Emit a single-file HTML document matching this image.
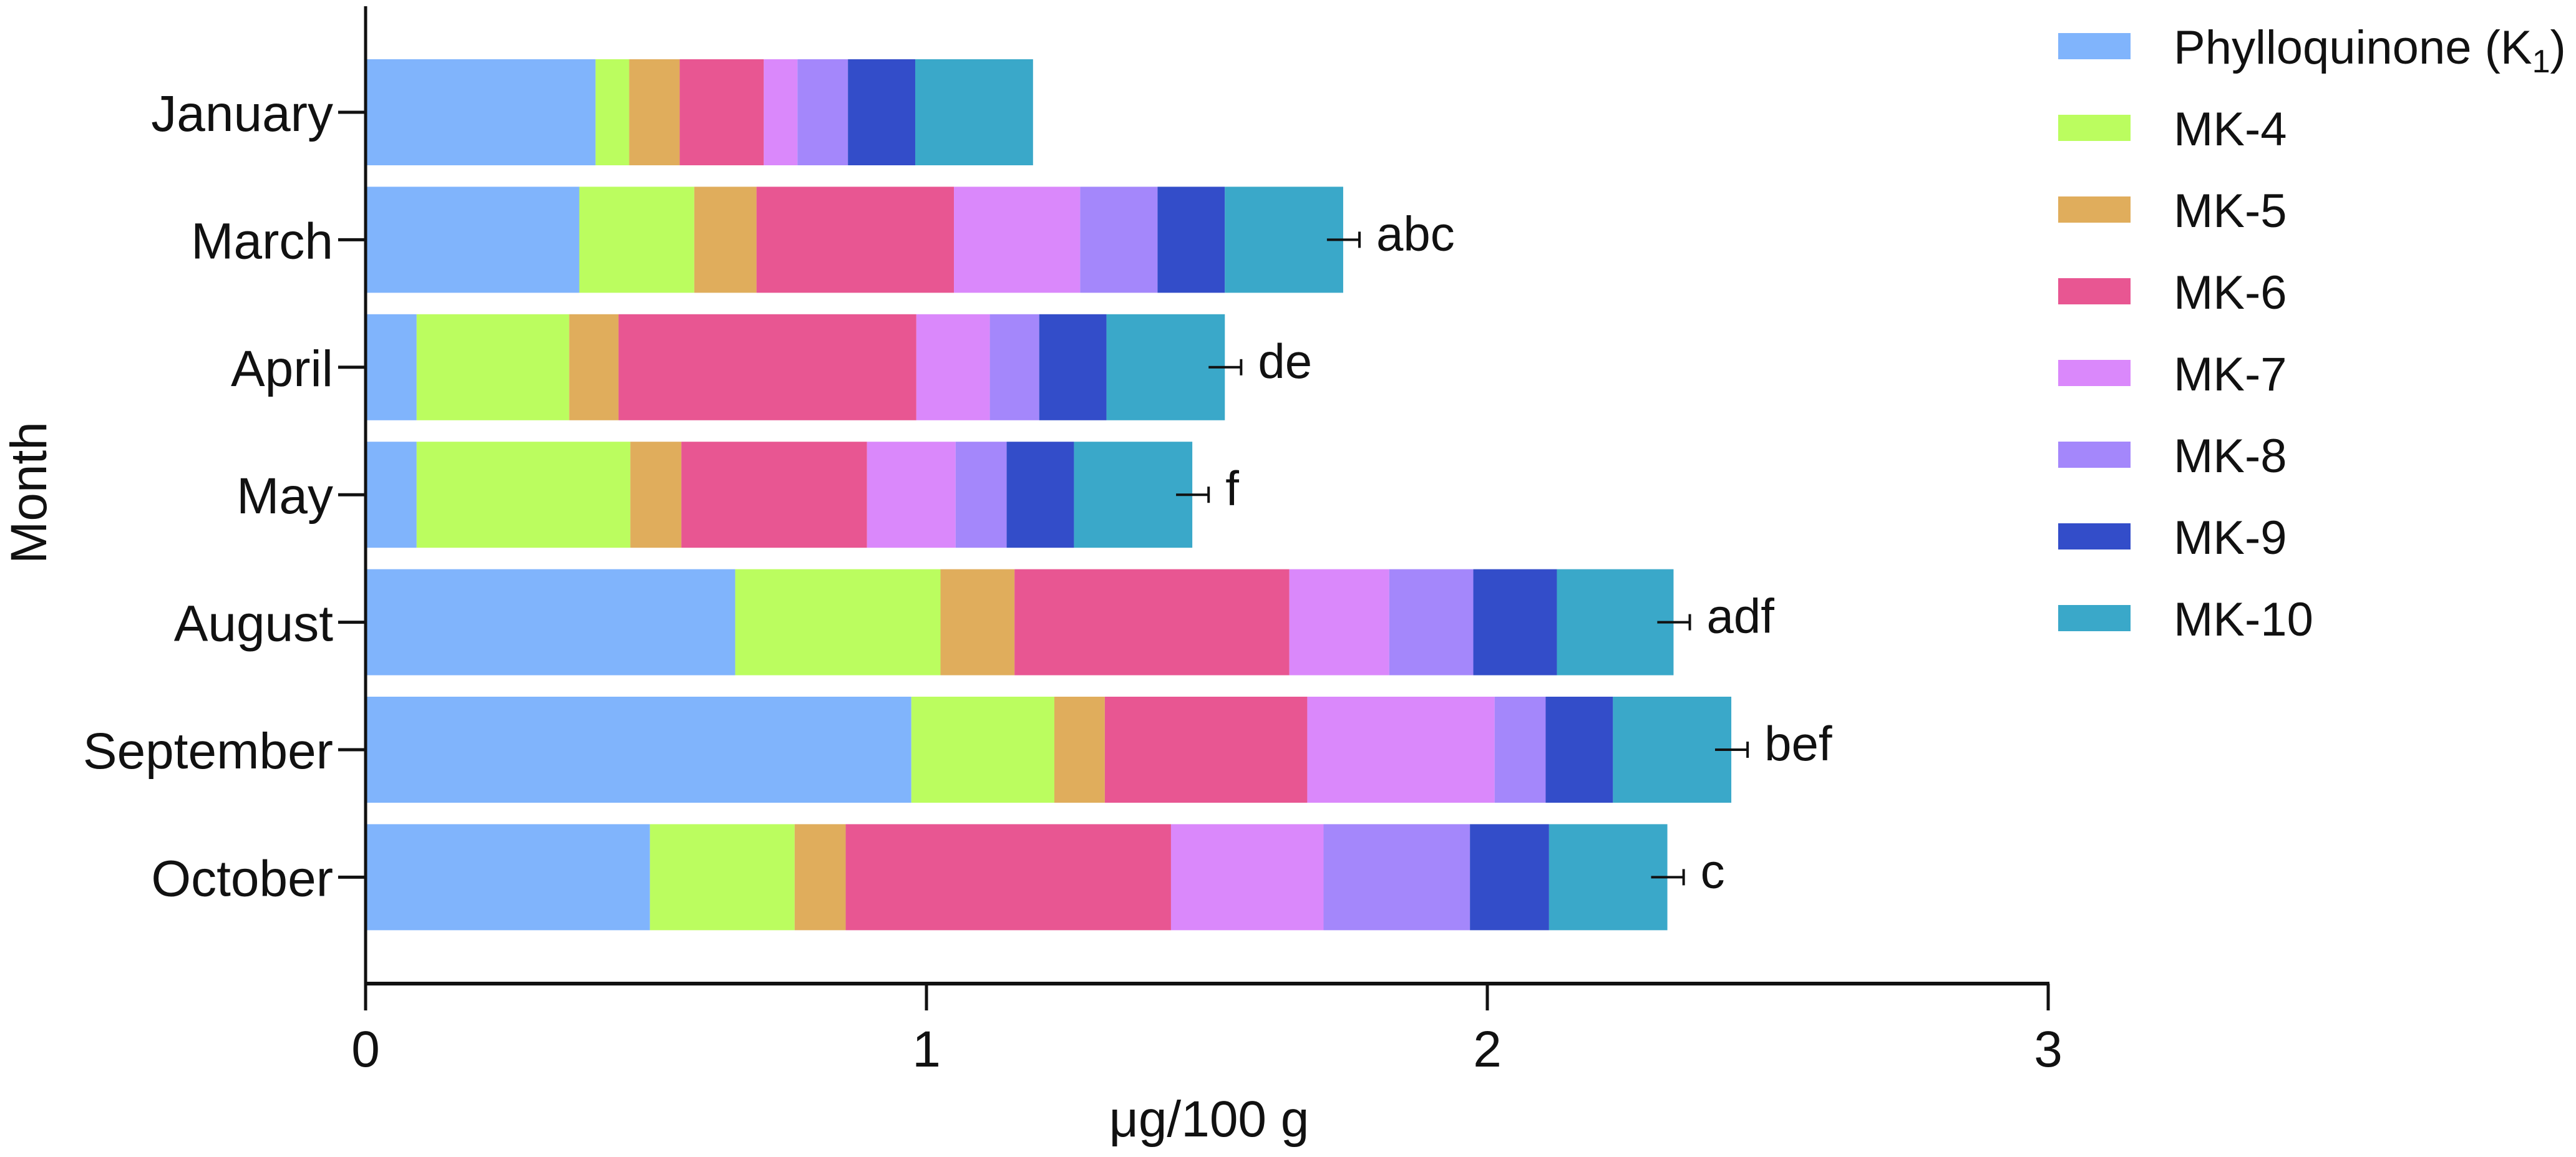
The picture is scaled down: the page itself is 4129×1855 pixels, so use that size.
<!DOCTYPE html>
<html><head><meta charset="utf-8"><style>
html,body{margin:0;padding:0;background:#fff;}
svg{display:block;font-family:"Liberation Sans",Arial,sans-serif;}
</style></head><body>
<svg id="chart" width="4129" height="1855" viewBox="0 0 4129 1855" xmlns="http://www.w3.org/2000/svg">
<g id="bars"></g>
<g id="axes"></g>
<g id="legend"></g>
</svg>
<script>
const months = ["January","March","April","May","August","September","October"];
const seriesNames = ["Phylloquinone (K1)","MK-4","MK-5","MK-6","MK-7","MK-8","MK-9","MK-10"];
const seriesColors = ["#80b4fc","#bbfd5f","#e0ad5c","#e85692","#da88fb","#a487fb","#334dc9","#3aa8c9"];
const k1   = [0.41,0.381,0.091,0.091,0.659,0.973,0.507];
const mk4  = [0.06,0.205,0.272,0.381,0.366,0.255,0.258];
const mk5  = [0.09,0.111,0.088,0.091,0.132,0.090,0.091];
const mk6  = [0.15,0.352,0.531,0.331,0.490,0.361,0.580];
const mk7  = [0.06,0.225,0.131,0.158,0.178,0.334,0.272];
const mk8  = [0.09,0.138,0.088,0.091,0.150,0.091,0.261];
const mk9  = [0.12,0.120,0.120,0.120,0.149,0.120,0.141];
const mk10 = [0.21,0.211,0.211,0.211,0.208,0.211,0.211];
const errors = [0,0.029,0.029,0.029,0.029,0.029,0.029];
const sigLetters = ["","abc","de","f","adf","bef","c"];
const xTicks = [0,1,2,3];

const NS="http://www.w3.org/2000/svg";
const X0=586, XU=899, Y0=180, STEP=204.4, BH=170, AXY=1577;
const xs=v=>X0+v*XU, ys=i=>Y0+i*STEP;
function mk(tag,attrs,parent){const e=document.createElementNS(NS,tag);for(const k in attrs)e.setAttribute(k,attrs[k]);parent.appendChild(e);return e;}
const series=[k1,mk4,mk5,mk6,mk7,mk8,mk9,mk10];
const gB=document.getElementById('bars'), gA=document.getElementById('axes'), gL=document.getElementById('legend');
months.forEach((m,i)=>{
  let cum=0;
  series.forEach((s,j)=>{
    const r=mk('rect',{x:xs(cum),y:ys(i)-BH/2,width:xs(cum+s[i])-xs(cum),height:BH,fill:seriesColors[j]},gB);
    
    
    cum+=s[i];
  });
  if(errors[i]>0){
    const g=mk('g',{stroke:'#111','stroke-width':4},gB);
    
    
    mk('line',{x1:xs(cum-errors[i]),x2:xs(cum+errors[i]),y1:ys(i),y2:ys(i)},g);
    mk('line',{x1:xs(cum+errors[i]),x2:xs(cum+errors[i]),y1:ys(i)-13,y2:ys(i)+13},g);
    const t=mk('text',{x:xs(cum+errors[i])+27,y:ys(i)+17,'font-size':78,fill:'#111'},gB);
    t.textContent=sigLetters[i];
    
    
  }
  const tk=mk('line',{x1:542,x2:X0,y1:ys(i),y2:ys(i),stroke:'#111','stroke-width':5},gA);
  
  
  const lb=mk('text',{x:534,y:ys(i)+30,'font-size':82,'text-anchor':'end',fill:'#111'},gA);
  lb.textContent=m;
  
  
});
const ya=mk('line',{x1:X0,x2:X0,y1:10,y2:AXY+2,stroke:'#111','stroke-width':5},gA);


const xa=mk('line',{x1:X0-2,x2:xs(3)+2,y1:AXY,y2:AXY,stroke:'#111','stroke-width':6},gA);


xTicks.forEach(v=>{
  const t=mk('line',{x1:xs(v),x2:xs(v),y1:AXY,y2:1620,stroke:'#111','stroke-width':5},gA);
  
  
  const l=mk('text',{x:xs(v),y:1710,'font-size':82,'text-anchor':'middle',fill:'#111'},gA);
  l.textContent=String(v);
  
  
});
const xt=mk('text',{x:1938,y:1822,'font-size':82,'text-anchor':'middle',fill:'#111'},gA);
xt.textContent='μg/100 g';


const yt=mk('text',{x:0,y:0,'font-size':82,'text-anchor':'middle',fill:'#111',transform:'translate(74,790) rotate(-90)'},gA);
yt.textContent='Month';


seriesNames.forEach((n,j)=>{
  const cy=74+j*131;
  const g=mk('g',{},gL);
  
  
  mk('rect',{x:3299,y:cy-21,width:116,height:42,fill:seriesColors[j]},g);
  const t=mk('text',{x:3484,y:cy+28,'font-size':76,fill:'#111'},g);
  if(j===0){t.textContent='Phylloquinone (K';const s=mk('tspan',{'font-size':52,dy:14},t);s.textContent='1';const s2=mk('tspan',{dy:-14},t);s2.textContent=')';}
  else t.textContent=n;
});
</script>
</body></html>
